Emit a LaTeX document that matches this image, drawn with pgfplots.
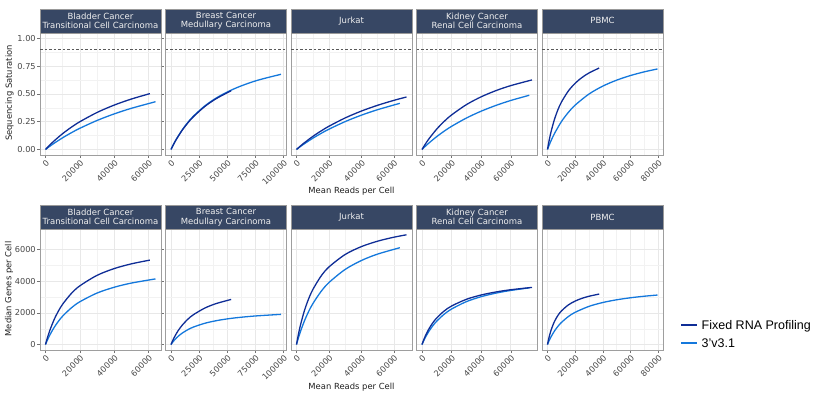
\documentclass[border=0pt]{standalone}
\usepackage{fontspec}
\setmainfont{DejaVu Sans}
\newfontfamily\legfont{Liberation Sans}
\usepackage{pgfplots}
\pgfplotsset{compat=1.18}
\definecolor{frpblue}{HTML}{0F2D96}
\definecolor{vblue}{HTML}{1478DC}
\definecolor{stripc}{HTML}{374764}
\pgfplotsset{
 panel/.style={
  scale only axis, width=121pt,
  axis line style={draw=black!38, line width=0.6pt},
  grid=both,
  major grid style={draw=black!9, line width=0.55pt},
  minor grid style={draw=black!5, line width=0.4pt},
  tick align=outside, major tick length=2.6pt, minor tick length=0pt,
  tick style={draw=black!55, line width=0.5pt},
  tick label style={font=\fontsize{8.2}{9}\selectfont, text=black!72},
  x tick label style={rotate=45, anchor=north east, inner sep=1pt},
  y tick label style={inner sep=1.5pt},
  scaled ticks=false,
  /pgf/number format/assume math mode=true,
  every axis title shift=0pt,
  title style={at={(0.5,1)}, anchor=south, fill=stripc, draw=black!40, line width=0.5pt, text=white!94!black, font=\fontsize{8.5}{9.4}\selectfont, align=center, text width=121pt, minimum height=24pt, inner sep=0pt},
 },
 sat/.style={panel, height=122pt, ymin=-0.05, ymax=1.05, ytick={0,0.25,0.5,0.75,1}, minor y tick num=1},
 gen/.style={panel, height=120.7pt, ymin=-347, ymax=7291, ytick={0,2000,4000,6000}, minor y tick num=1},
 noy/.style={yticklabels={}, ytick style={draw=none}},
 frpstyle/.style={draw=frpblue, line width=1.3pt, smooth, no marks},
 vthree/.style={draw=vblue, line width=1.3pt, smooth, no marks},
 satline/.style={draw=black!65, line width=0.5pt, dash pattern=on 2.5pt off 2pt, forget plot},
 x20/.style={xtick={0,20000,40000,60000}, xticklabels={0,20000,40000,60000}, minor x tick num=1},
 x25/.style={xtick={0,25000,50000,75000,100000}, xticklabels={0,25000,50000,75000,100000}, minor x tick num=1},
 x80/.style={xtick={0,20000,40000,60000,80000}, xticklabels={0,20000,40000,60000,80000}, minor x tick num=1},
}
\begin{document}
\begin{tikzpicture}
\path[use as bounding box] (0pt,0pt) rectangle (830pt,392pt);
% ---------------- top row: Sequencing Saturation ----------------
\begin{axis}[sat, at={(40pt,237pt)}, anchor=south west, xmin=-3204, xmax=67284, x20,
  yticklabels={0.00,0.25,0.50,0.75,1.00}, title={Bladder Cancer\\Transitional Cell Carcinoma}]
\addplot[satline] coordinates {(-3204,0.9) (67284,0.9)};
\addplot[vthree] coordinates {(0,0) (2500,0.0286) (5000,0.0557) (10000,0.1055) (15000,0.1503) (20000,0.1908) (30000,0.2613) (40000,0.3205) (50000,0.3709) (64080,0.4304)};
\addplot[frpstyle] coordinates {(0,0) (2500,0.040) (5000,0.0769) (10000,0.1429) (15000,0.2) (20000,0.25) (30000,0.3333) (40000,0.4) (50000,0.4545) (60800,0.5033)};
\end{axis}
\begin{axis}[sat, noy, at={(165.5pt,237pt)}, anchor=south west, xmin=-4890, xmax=102690, x25,
  title={Breast Cancer\\Medullary Carcinoma}]
\addplot[satline] coordinates {(-4890,0.9) (102690,0.9)};
\addplot[vthree] coordinates {(0,0) (2500,0.0510) (5000,0.0971) (10000,0.1770) (15000,0.2439) (20000,0.3008) (30000,0.3922) (40000,0.4624) (50000,0.5181) (60000,0.5634) (70000,0.6009) (80000,0.6324) (97800,0.6778)};
\addplot[frpstyle] coordinates {(0,0) (2500,0.05) (5000,0.0952) (10000,0.1739) (15000,0.24) (20000,0.2963) (30000,0.3871) (40000,0.4571) (53460,0.5295)};
\end{axis}
\begin{axis}[sat, noy, at={(291pt,237pt)}, anchor=south west, xmin=-3389, xmax=71159, x20,
  title={Jurkat}]
\addplot[satline] coordinates {(-3389,0.9) (71159,0.9)};
\addplot[vthree] coordinates {(0,0) (2500,0.0272) (5000,0.0530) (10000,0.1006) (15000,0.1437) (20000,0.1829) (30000,0.2513) (40000,0.3092) (50000,0.3588) (63660,0.4160)};
\addplot[frpstyle] coordinates {(0,0) (2500,0.0321) (5000,0.0621) (10000,0.1170) (15000,0.1657) (20000,0.2094) (30000,0.2844) (40000,0.3463) (50000,0.3984) (60000,0.4428) (67770,0.4730)};
\end{axis}
\begin{axis}[sat, noy, at={(416.5pt,237pt)}, anchor=south west, xmin=-3718, xmax=78078, x20,
  title={Kidney Cancer\\Renal Cell Carcinoma}]
\addplot[satline] coordinates {(-3718,0.9) (78078,0.9)};
\addplot[vthree] coordinates {(0,0) (2500,0.0319) (5000,0.0618) (10000,0.1164) (15000,0.1651) (20000,0.2086) (30000,0.2833) (40000,0.3452) (50000,0.3972) (60000,0.4416) (72500,0.4886)};
\addplot[frpstyle] coordinates {(0,0) (2500,0.0535) (5000,0.1015) (10000,0.1844) (15000,0.2532) (20000,0.3113) (30000,0.4041) (40000,0.4748) (50000,0.5306) (60000,0.5756) (74360,0.6270)};
\end{axis}
\begin{axis}[sat, noy, at={(542pt,237pt)}, anchor=south west, xmin=-3975, xmax=83475, x80,
  title={PBMC}]
\addplot[satline] coordinates {(-3975,0.9) (83475,0.9)};
\addplot[vthree] coordinates {(0,0) (1000,0.0323) (2500,0.0769) (5000,0.1429) (10000,0.25) (15000,0.3333) (20000,0.4) (30000,0.5) (40000,0.5714) (50000,0.625) (60000,0.6667) (70000,0.7) (79500,0.7260)};
\addplot[frpstyle] coordinates {(0,0) (1000,0.0690) (2500,0.1563) (5000,0.2703) (7500,0.3571) (10000,0.4255) (15000,0.5263) (20000,0.5970) (25000,0.6494) (30000,0.6897) (37350,0.7345)};
\end{axis}
% ---------------- bottom row: Median Genes per Cell ----------------
\begin{axis}[gen, at={(40pt,42pt)}, anchor=south west, xmin=-3204, xmax=67284, x20,
  yticklabels={0,2000,4000,6000}, title={Bladder Cancer\\Transitional Cell Carcinoma}]
\addplot[vthree] coordinates {(0,0) (1000,254.6) (2500,595.1) (5000,1073.7) (7500,1467) (10000,1796) (15000,2315) (20000,2706) (30000,3256) (40000,3624) (50000,3888) (64080,4153)};
\addplot[frpstyle] coordinates {(0,0) (1000,385.4) (2500,888) (5000,1571) (7500,2113) (10000,2553) (15000,3225) (20000,3713) (30000,4376) (40000,4805) (50000,5105) (60800,5342)};
\end{axis}
\begin{axis}[gen, noy, at={(165.5pt,42pt)}, anchor=south west, xmin=-4890, xmax=102690, x25,
  title={Breast Cancer\\Medullary Carcinoma}]
\addplot[vthree] coordinates {(0,0) (1000,100.4) (2500,235.9) (5000,428.6) (7500,589.1) (10000,724.8) (15000,941.8) (20000,1107) (30000,1344) (40000,1505) (50000,1621) (60000,1709) (75000,1807) (97800,1909)};
\addplot[frpstyle] coordinates {(0,0) (1000,168.2) (2500,396.1) (5000,722.4) (7500,995.9) (10000,1228) (15000,1603) (20000,1891) (30000,2305) (40000,2588) (53460,2853)};
\end{axis}
\begin{axis}[gen, noy, at={(291pt,42pt)}, anchor=south west, xmin=-3389, xmax=71159, x20,
  title={Jurkat}]
\addplot[vthree] coordinates {(0,0) (1000,357.8) (2500,840) (5000,1524.6) (7500,2093.5) (10000,2573.6) (15000,3339.4) (20000,3923.1) (30000,4754) (40000,5317.1) (50000,5723.9) (63660,6126.2)};
\addplot[frpstyle] coordinates {(0,0) (1000,551.7) (2500,1255.5) (5000,2184.6) (7500,2899.9) (10000,3467.6) (15000,4311.7) (20000,4909.1) (30000,5698.9) (40000,6197.3) (50000,6540.6) (60000,6791.3) (67770,6943.9)};
\end{axis}
\begin{axis}[gen, noy, at={(416.5pt,42pt)}, anchor=south west, xmin=-3718, xmax=78078, x20,
  title={Kidney Cancer\\Renal Cell Carcinoma}]
\addplot[vthree] coordinates {(0,0) (1000,208.5) (2500,488.2) (5000,883.4) (7500,1209.8) (10000,1483.9) (15000,1918.7) (20000,2248) (30000,2713.8) (40000,3027.4) (50000,3253) (60000,3423) (72500,3584.5)};
\addplot[frpstyle] coordinates {(0,0) (1000,257.5) (2500,591.7) (5000,1043) (7500,1398) (10000,1686) (15000,2122) (20000,2437) (30000,2862) (40000,3135) (50000,3326) (60000,3467) (74360,3614)};
\end{axis}
\begin{axis}[gen, noy, at={(542pt,42pt)}, anchor=south west, xmin=-3975, xmax=83475, x80,
  title={PBMC}]
\addplot[vthree] coordinates {(0,0) (1000,207.1) (2500,478.7) (5000,850.8) (7500,1148.3) (10000,1391.6) (15000,1765.7) (20000,2039.9) (30000,2414.9) (40000,2659.3) (50000,2831.2) (60000,2958.8) (70000,3057.2) (79500,3131.8)};
\addplot[frpstyle] coordinates {(0,0) (500,217.8) (1000,412.6) (2500,890.9) (5000,1451.9) (7500,1837.5) (10000,2118.9) (15000,2502.1) (20000,2750.9) (25000,2925.4) (30000,3054.5) (37350,3193.3)};
\end{axis}
% legend
\draw[frpblue, line width=1.8pt] (681pt,67pt) -- (697pt,67pt);
\draw[vblue, line width=1.8pt] (681pt,49pt) -- (697pt,49pt);
\node[anchor=base west, inner sep=0pt, font=\legfont\fontsize{12.5}{14}\selectfont] at (701.5pt,62.5pt) {Fixed RNA Profiling};
\node[anchor=base west, inner sep=0pt, font=\legfont\fontsize{12.5}{14}\selectfont] at (701.5pt,44.5pt) {3’v3.1};
% axis titles
\node[rotate=90, font=\fontsize{8.4}{9}\selectfont, text=black!88] at (9.5pt,299pt) {Sequencing Saturation};
\node[rotate=90, font=\fontsize{8.4}{9}\selectfont, text=black!88] at (9pt,103pt) {Median Genes per Cell};
\node[font=\fontsize{8.4}{9}\selectfont, text=black!88] at (351.5pt,200.5pt) {Mean Reads per Cell};
\node[font=\fontsize{8.4}{9}\selectfont, text=black!88] at (351.5pt,4.6pt) {Mean Reads per Cell};
\end{tikzpicture}
\end{document}
